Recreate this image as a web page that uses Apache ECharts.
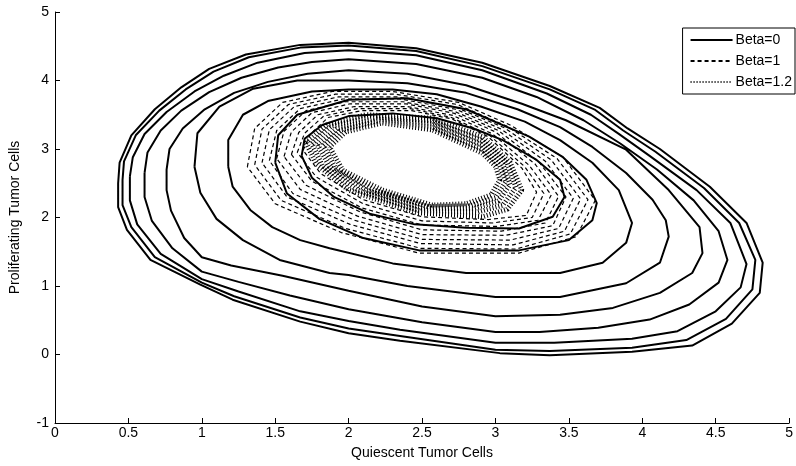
<!DOCTYPE html>
<html>
<head>
<meta charset="utf-8">
<script src="https://cdn.jsdelivr.net/npm/echarts@6/dist/echarts.min.js"></script>
<style>
  html, body { margin: 0; padding: 0; background: #fff; }
  #chart { width: 796px; height: 466px; }
</style>
</head>
<body>
<div id="chart"></div>
<script>
  // axis ranges
  const xRange = [0, 5];
  const yRange = [-1, 5];
  const seriesNames = ['Beta=0', 'Beta=1', 'Beta=1.2'];

  // Beta=0 loops (solid), outer to inner
  const beta0Loop1 = [[0.43,2.50],[0.44,2.80],[0.52,3.20],[0.68,3.58],[0.86,3.90],[1.05,4.17],[1.30,4.38],[1.67,4.52],[2.00,4.55],[2.46,4.47],[2.91,4.26],[3.37,3.92],[3.71,3.60],[3.90,3.30],[4.12,3.00],[4.46,2.45],[4.71,1.92],[4.82,1.34],[4.80,0.90],[4.61,0.45],[4.34,0.13],[3.93,0.04],[3.37,-0.01],[3.03,0.02],[2.35,0.20],[2.00,0.31],[1.67,0.48],[1.21,0.80],[0.99,1.02],[0.65,1.38],[0.49,1.82],[0.43,2.15]];
  const beta0Loop2 = [[0.46,2.55],[0.47,2.82],[0.55,3.20],[0.71,3.56],[0.89,3.87],[1.08,4.13],[1.32,4.34],[1.67,4.48],[2.00,4.51],[2.46,4.43],[2.91,4.21],[3.37,3.87],[3.68,3.57],[3.87,3.27],[4.09,2.96],[4.42,2.43],[4.66,1.92],[4.77,1.38],[4.75,0.95],[4.57,0.52],[4.30,0.21],[3.93,0.10],[3.37,0.05],[3.00,0.07],[2.35,0.27],[2.00,0.38],[1.67,0.54],[1.22,0.85],[1.00,1.05],[0.68,1.42],[0.52,1.86],[0.46,2.18]];
  const beta0Loop3 = [[0.51,2.60],[0.53,2.88],[0.61,3.22],[0.76,3.54],[0.95,3.84],[1.15,4.07],[1.38,4.26],[1.70,4.40],[2.00,4.44],[2.46,4.37],[2.91,4.15],[3.35,3.81],[3.65,3.50],[3.84,3.22],[4.05,2.90],[4.37,2.40],[4.60,1.92],[4.71,1.32],[4.67,0.98],[4.50,0.63],[4.24,0.34],[3.93,0.23],[3.40,0.17],[3.00,0.17],[2.35,0.36],[2.00,0.49],[1.67,0.63],[1.25,0.92],[1.00,1.10],[0.72,1.47],[0.56,1.90],[0.51,2.25]];
  const beta0Loop4 = [[0.61,2.65],[0.63,2.95],[0.72,3.27],[0.86,3.56],[1.05,3.83],[1.27,4.04],[1.52,4.19],[1.75,4.27],[2.00,4.31],[2.46,4.24],[2.91,4.04],[3.28,3.76],[3.60,3.42],[3.85,3.08],[4.10,2.70],[4.35,2.25],[4.52,1.80],[4.58,1.38],[4.52,1.05],[4.32,0.73],[4.05,0.51],[3.70,0.39],[3.30,0.33],[3.00,0.33],[2.50,0.47],[2.00,0.66],[1.60,0.86],[1.25,1.06],[1.00,1.21],[0.80,1.55],[0.66,1.95],[0.61,2.30]];
  const beta0Loop5 = [[0.76,2.70],[0.78,3.00],[0.87,3.30],[1.02,3.58],[1.22,3.82],[1.45,3.98],[1.72,4.10],[2.00,4.15],[2.40,4.10],[2.80,3.93],[3.18,3.66],[3.48,3.42],[3.89,2.99],[4.18,2.40],[4.39,1.86],[4.41,1.48],[4.34,1.19],[4.12,0.90],[3.80,0.68],[3.44,0.58],[3.00,0.56],[2.50,0.70],[2.00,0.93],[1.55,1.15],[1.20,1.30],[1.00,1.42],[0.88,1.70],[0.79,2.10],[0.76,2.40]];
  const beta0Loop6 = [[0.95,2.74],[0.97,3.23],[1.12,3.62],[1.35,3.88],[1.65,4.00],[2.00,4.00],[2.40,3.96],[2.80,3.82],[3.15,3.58],[3.44,3.32],[3.66,3.03],[3.89,2.65],[4.07,2.26],[4.16,1.96],[4.18,1.72],[4.12,1.34],[3.89,1.04],[3.44,0.84],[3.00,0.84],[2.40,1.00],[2.00,1.16],[1.87,1.19],[1.53,1.38],[1.28,1.67],[1.10,1.98],[0.99,2.36]];
  const beta0Loop7 = [[1.18,2.74],[1.18,3.13],[1.28,3.50],[1.45,3.70],[1.75,3.84],[2.00,3.87],[2.30,3.87],[2.60,3.80],[2.90,3.62],[3.20,3.40],[3.44,3.13],[3.66,2.80],[3.84,2.40],[3.93,1.92],[3.89,1.63],[3.73,1.34],[3.44,1.19],[2.80,1.19],[2.30,1.33],[1.87,1.55],[1.67,1.67],[1.48,1.86],[1.33,2.11],[1.21,2.45]];
  const beta0Loop8 = [[1.50,2.80],[1.52,3.20],[1.65,3.50],[2.00,3.72],[2.40,3.74],[2.80,3.58],[3.23,3.18],[3.46,2.88],[3.62,2.55],[3.69,2.21],[3.66,1.96],[3.50,1.67],[3.16,1.52],[2.48,1.52],[2.10,1.70],[1.80,1.98],[1.58,2.35]];
  const beta0Loop9 = [[1.68,2.90],[1.70,3.15],[1.82,3.35],[2.00,3.48],[2.30,3.52],[2.60,3.45],[2.85,3.30],[3.05,3.13],[3.28,2.84],[3.44,2.55],[3.47,2.30],[3.39,2.01],[3.16,1.84],[2.80,1.85],[2.45,1.90],[2.15,2.05],[1.90,2.30],[1.75,2.58]];

  // Beta=1 loops (dashed), outer to inner
  const beta1Loop1 = [[1.31,2.74],[1.36,3.30],[1.55,3.68],[1.89,3.84],[2.30,3.84],[2.75,3.68],[3.10,3.35],[3.46,2.88],[3.68,2.25],[3.55,1.72],[3.16,1.48],[2.48,1.48],[1.95,1.78],[1.50,2.20]];
  const beta1Loop2 = [[1.36,2.77],[1.41,3.29],[1.59,3.65],[1.91,3.80],[2.32,3.80],[2.74,3.65],[3.08,3.33],[3.42,2.86],[3.63,2.26],[3.51,1.76],[3.14,1.54],[2.49,1.55],[1.98,1.84],[1.54,2.25]];
  const beta1Loop3 = [[1.41,2.80],[1.46,3.28],[1.63,3.62],[1.93,3.76],[2.33,3.76],[2.73,3.61],[3.06,3.31],[3.38,2.84],[3.58,2.27],[3.47,1.80],[3.12,1.60],[2.49,1.62],[2.01,1.90],[1.58,2.30]];
  const beta1Loop4 = [[1.46,2.83],[1.51,3.27],[1.67,3.59],[1.96,3.73],[2.35,3.73],[2.73,3.58],[3.04,3.29],[3.34,2.82],[3.53,2.28],[3.43,1.84],[3.10,1.67],[2.50,1.68],[2.04,1.96],[1.62,2.35]];
  const beta1Loop5 = [[1.51,2.86],[1.56,3.26],[1.71,3.56],[1.98,3.69],[2.37,3.69],[2.72,3.55],[3.02,3.27],[3.30,2.80],[3.48,2.30],[3.39,1.88],[3.07,1.74],[2.50,1.75],[2.06,2.02],[1.67,2.41]];
  const beta1Loop6 = [[1.56,2.89],[1.61,3.25],[1.75,3.53],[2.01,3.66],[2.39,3.66],[2.72,3.52],[3.00,3.25],[3.27,2.78],[3.43,2.31],[3.34,1.92],[3.04,1.80],[2.50,1.82],[2.08,2.08],[1.71,2.47]];
  const beta1Loop7 = [[1.61,2.92],[1.66,3.24],[1.79,3.50],[2.04,3.62],[2.40,3.62],[2.71,3.49],[2.98,3.22],[3.23,2.76],[3.38,2.33],[3.29,1.96],[3.01,1.87],[2.50,1.89],[2.09,2.14],[1.75,2.53]];
  const beta1Loop8 = [[1.65,2.95],[1.70,3.23],[1.83,3.48],[2.06,3.59],[2.42,3.59],[2.70,3.46],[2.96,3.20],[3.20,2.74],[3.33,2.35],[3.25,2.00],[2.98,1.92],[2.50,1.95],[2.10,2.20],[1.78,2.59]];
  const beta1Loop9 = [[1.69,2.98],[1.74,3.22],[1.86,3.46],[2.09,3.56],[2.43,3.56],[2.70,3.44],[2.95,3.18],[3.18,2.72],[3.28,2.37],[3.21,2.03],[2.95,1.97],[2.50,2.01],[2.10,2.26],[1.81,2.64]];

  // Beta=1.2 loops (dotted), outer to inner
  const beta12Loop1 = [[1.71,3.09],[1.85,3.35],[2.12,3.50],[2.57,3.45],[2.91,3.18],[3.10,2.80],[3.18,2.40],[3.08,2.12],[2.91,2.01],[2.46,2.07],[2.00,2.40],[1.78,2.78]];
  const beta12Loop2 = [[1.75,3.08],[1.88,3.33],[2.15,3.47],[2.57,3.41],[2.91,3.12],[3.08,2.79],[3.14,2.44],[3.05,2.18],[2.88,2.08],[2.48,2.10],[2.06,2.40],[1.82,2.76]];
  const beta12Loop3 = [[1.79,3.06],[1.92,3.30],[2.18,3.44],[2.57,3.37],[2.91,3.06],[3.05,2.78],[3.10,2.48],[3.02,2.24],[2.85,2.13],[2.51,2.13],[2.12,2.40],[1.87,2.74]];
  const beta12Loop4 = [[1.83,3.05],[1.95,3.28],[2.20,3.41],[2.57,3.32],[2.91,3.00],[3.03,2.76],[3.07,2.52],[3.00,2.29],[2.83,2.17],[2.54,2.16],[2.17,2.40],[1.91,2.72]];
  const beta12Loop5 = [[1.87,3.03],[1.98,3.25],[2.23,3.38],[2.57,3.28],[2.91,2.94],[3.00,2.75],[3.03,2.55],[2.97,2.33],[2.80,2.20],[2.57,2.18],[2.23,2.40],[1.96,2.69]];

  const beta0Loops = [beta0Loop1, beta0Loop2, beta0Loop3, beta0Loop4, beta0Loop5, beta0Loop6, beta0Loop7, beta0Loop8, beta0Loop9];
  const beta1Loops = [beta1Loop1, beta1Loop2, beta1Loop3, beta1Loop4, beta1Loop5, beta1Loop6, beta1Loop7, beta1Loop8, beta1Loop9];
  const beta12Loops = [beta12Loop1, beta12Loop2, beta12Loop3, beta12Loop4, beta12Loop5];

  // join closed loops into one line, broken by nulls
  function joinLoops(loops) {
    let out = [];
    loops.forEach(function(loop) {
      out = out.concat(loop);
      out.push(loop[0]);
      out.push(null);
    });
    return out;
  }

  const font = 'Liberation Sans, Arial, sans-serif';
  const chart = echarts.init(document.getElementById('chart'));

  function makeSeries(name, loops, lineStyle) {
    return {
      name: name,
      type: 'line',
      data: joinLoops(loops),
      symbol: 'none',
      showSymbol: false,
      smooth: false,
      connectNulls: false,
      lineStyle: lineStyle,
      itemStyle: { color: '#000' },
      emphasis: { disabled: true },
      animation: false
    };
  }

  chart.setOption({
    backgroundColor: '#fff',
    animation: false,
    grid: { left: 55, right: 6, top: 12, bottom: 43 },
    legend: {
      data: seriesNames,
      orient: 'vertical',
      right: 1,
      top: 28,
      itemWidth: 42,
      itemHeight: 8,
      itemGap: 7,
      padding: [5, 3, 5, 7],
      borderColor: '#000',
      borderWidth: 1,
      backgroundColor: '#fff',
      itemStyle: { color: 'rgba(0,0,0,0)', borderWidth: 0 },
      textStyle: { fontFamily: font, fontSize: 14, color: '#000', padding: [0, 0, 0, -2] }
    },
    xAxis: {
      type: 'value',
      min: xRange[0],
      max: xRange[1],
      interval: 0.5,
      name: 'Quiescent Tumor Cells',
      nameLocation: 'middle',
      nameGap: 23,
      nameTextStyle: { fontFamily: font, fontSize: 14, color: '#000' },
      axisLine: { onZero: false, lineStyle: { color: '#000', width: 1 } },
      axisTick: { inside: true, length: 5, lineStyle: { color: '#000' } },
      axisLabel: { fontFamily: font, fontSize: 14, color: '#000', margin: 3 },
      splitLine: { show: false }
    },
    yAxis: {
      type: 'value',
      min: yRange[0],
      max: yRange[1],
      interval: 1,
      name: 'Proliferating Tumor Cells',
      nameLocation: 'middle',
      nameGap: 33,
      nameTextStyle: { fontFamily: font, fontSize: 14, color: '#000' },
      axisLine: { show: true, onZero: false, lineStyle: { color: '#000', width: 1 } },
      axisTick: { show: true, inside: true, length: 5, lineStyle: { color: '#000' } },
      axisLabel: { fontFamily: font, fontSize: 14, color: '#000', margin: 6 },
      splitLine: { show: false }
    },
    series: [
      makeSeries(seriesNames[0], beta0Loops, { color: '#000', width: 2, type: 'solid' }),
      makeSeries(seriesNames[1], beta1Loops, { color: '#000', width: 1.2, type: [4, 3] }),
      makeSeries(seriesNames[2], beta12Loops, { color: '#000', width: 5, type: [1, 2] })
    ]
  });
</script>
</body>
</html>
